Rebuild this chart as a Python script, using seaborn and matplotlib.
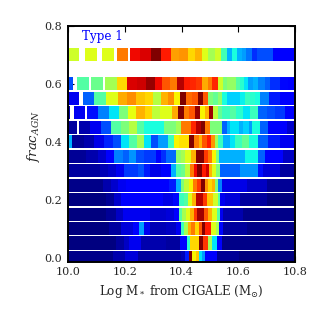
import matplotlib
matplotlib.use("Agg")
import matplotlib.pyplot as plt
import seaborn as sns
import numpy as np
import pandas as pd

nan = np.nan

# x edges are Log M*, values are the normalised colour level of each bin
e70 = [10.002,10.038,10.061,10.104,10.120,10.161,10.171,10.212,10.218,10.253,10.294,10.329,10.362,10.392,10.421,10.447,10.473,10.494,10.518,10.539,10.559,10.579,10.596,10.612,10.629,10.647,10.665,10.724,10.8]
v70 = [.6,nan,.62,nan,.62,nan,.78,nan,.9,.92,1,.88,.74,.75,.68,.72,.62,.55,.6,.43,.3,.38,.3,.28,.24,.17,.2,.12]
e60 = [10.0,10.018,10.033,10.074,10.082,10.124,10.129,10.171,10.208,10.244,10.276,10.306,10.333,10.359,10.385,10.408,10.429,10.453,10.473,10.494,10.509,10.527,10.545,10.561,10.592,10.606,10.620,10.635,10.653,10.671,10.694,10.712,10.747,10.776,10.8]
v60 = [.2,nan,.45,nan,.48,nan,.55,.68,.92,.93,.98,.9,.82,.78,.95,.88,.87,.85,.73,.78,.87,.6,.5,.53,.45,.4,.35,.28,.3,.25,.22,.17,.13,.12]
e55 = [10.0,10.039,10.051,10.091,10.135,10.176,10.209,10.241,10.271,10.300,10.326,10.352,10.373,10.396,10.418,10.438,10.458,10.476,10.493,10.512,10.527,10.542,10.559,10.576,10.606,10.624,10.641,10.659,10.676,10.709,10.747,10.8]
v55 = [.1,nan,.22,.45,.62,.73,.76,.7,.68,.57,.72,.76,.65,1,.8,.82,1,.82,.5,.47,.52,.38,.33,.33,.36,.42,.4,.38,.25,.15,.12]
e50 = [10.0,10.009,10.020,10.061,10.066,10.106,10.145,10.180,10.212,10.241,10.271,10.295,10.324,10.365,10.387,10.408,10.427,10.446,10.465,10.482,10.496,10.512,10.527,10.542,10.571,10.594,10.618,10.641,10.671,10.700,10.729,10.765,10.8]
v50 = [.05,nan,.1,nan,.14,.25,.35,.5,.63,.72,.68,.58,.62,.73,1,.78,.82,.98,.65,.72,.97,.58,.47,.42,.45,.4,.35,.42,.22,.2,.18,.12]
e45 = [10.0,10.032,10.038,10.078,10.116,10.152,10.187,10.216,10.243,10.269,10.340,10.381,10.398,10.434,10.451,10.468,10.484,10.501,10.542,10.560,10.571,10.601,10.618,10.636,10.648,10.677,10.706,10.748,10.771,10.8]
v45 = [.03,nan,.04,.1,.2,.45,.5,.57,.45,.38,.5,.55,.78,.87,.95,1,.78,.5,.22,.3,.35,.3,.33,.28,.38,.22,.12,.11,.07]
e40 = [10.0,10.005,10.014,10.058,10.093,10.128,10.158,10.187,10.216,10.243,10.269,10.293,10.316,10.351,10.375,10.393,10.427,10.444,10.460,10.474,10.489,10.503,10.518,10.530,10.548,10.571,10.589,10.612,10.636,10.671,10.706,10.748,10.8]
v40 = [.03,.3,.02,.04,.09,.16,.2,.35,.45,.55,.35,.2,.28,.42,.65,.67,1,.78,.72,.82,.88,.75,.55,.42,.3,.35,.42,.47,.38,.22,.15,.1]
e35 = [10.0,10.063,10.105,10.134,10.163,10.193,10.216,10.240,10.269,10.310,10.328,10.346,10.381,10.398,10.413,10.434,10.450,10.480,10.495,10.509,10.521,10.534,10.571,10.624,10.671,10.695,10.759,10.8]
v35 = [.02,.04,.07,.11,.25,.22,.27,.2,.18,.12,.17,.23,.52,.55,.62,.72,1,.85,.78,.65,.5,.3,.3,.37,.22,.12,.06]
e30 = [10.0,10.002,10.111,10.140,10.169,10.199,10.246,10.269,10.287,10.328,10.363,10.381,10.398,10.413,10.430,10.444,10.456,10.471,10.485,10.497,10.509,10.521,10.536,10.607,10.671,10.689,10.748,10.8]
v30 = [.05,.03,.05,.07,.1,.18,.21,.15,.09,.12,.3,.45,.48,.58,.78,.9,1,.88,.93,.72,.62,.5,.22,.27,.14,.08,.03]
e25 = [10.0,10.122,10.152,10.175,10.205,10.310,10.357,10.381,10.398,10.409,10.427,10.440,10.456,10.468,10.483,10.495,10.507,10.518,10.530,10.542,10.630,10.700,10.8]
v25 = [.01,.04,.07,.1,.11,.12,.15,.3,.5,.58,.65,.78,.85,1,.75,.68,.72,.5,.25,.09,.06,.02]
e20 = [10.0,10.134,10.163,10.187,10.334,10.369,10.393,10.407,10.421,10.436,10.451,10.477,10.489,10.513,10.527,10.536,10.554,10.607,10.700,10.8]
v20 = [0,.02,.07,.11,.09,.13,.42,.45,.62,.72,.95,.85,.7,.6,.45,.1,.08,.03,0]
e15 = [10.0,10.134,10.169,10.193,10.287,10.346,10.375,10.393,10.401,10.416,10.430,10.444,10.456,10.480,10.495,10.509,10.524,10.536,10.548,10.618,10.8]
v15 = [0,.02,.06,.1,.07,.08,.12,.45,.55,.62,.72,.85,.97,.82,.72,.62,.45,.1,.04,.01]
e10 = [10.0,10.146,10.187,10.228,10.249,10.269,10.287,10.346,10.381,10.398,10.407,10.421,10.433,10.447,10.460,10.471,10.483,10.503,10.521,10.534,10.545,10.630,10.8]
v10 = [0,.03,.08,.12,.28,.1,.05,.06,.1,.42,.55,.72,.78,.68,.82,1,.88,.62,.55,.13,.03,.01]
e05 = [10.0,10.169,10.199,10.216,10.257,10.346,10.395,10.419,10.430,10.463,10.477,10.495,10.507,10.524,10.542,10.8]
v05 = [0,.03,.06,.1,.04,.03,.11,.4,.68,1,.85,.55,.35,.12,.01]
e00 = [10.0,10.160,10.200,10.245,10.400,10.413,10.428,10.438,10.450,10.460,10.471,10.483,10.524,10.601,10.8]
v00 = [.01,.04,.08,.03,.05,.15,1,.65,.7,.35,.28,.12,.02,0]

frac_rows = [0.0,0.05,0.1,0.15,0.2,0.25,0.3,0.35,0.4,0.45,0.5,0.55,0.6,0.7]
edges = [e00,e05,e10,e15,e20,e25,e30,e35,e40,e45,e50,e55,e60,e70]
vals = [v00,v05,v10,v15,v20,v25,v30,v35,v40,v45,v50,v55,v60,v70]

xticks = [10.0,10.2,10.4,10.6,10.8]
yticks = [0.0,0.2,0.4,0.6,0.8]

# fine regular grid so the uneven bins and white gaps fit in one heatmap
nx = 640
dy = 0.005
y0 = -0.0225
ny = 165
xc = 10 + (np.arange(nx) + 0.5) * 0.8 / nx
yc = y0 + (np.arange(ny) + 0.5) * dy
grid = np.full((ny, nx), nan)
for f, e, v in zip(frac_rows, edges, vals):
    col = np.full(nx, nan)
    i = np.searchsorted(e, xc) - 1
    ok = (i >= 0) & (i < len(v))
    col[ok] = np.array(v)[i[ok]]
    grid[np.abs(yc - f) < 0.0225] = col
df = pd.DataFrame(grid, index=yc, columns=xc)

sns.set_style("ticks")
plt.rcParams["font.family"] = "DejaVu Serif"
plt.rcParams["mathtext.fontset"] = "dejavuserif"

fig = plt.figure(figsize=(3.27, 3.27), dpi=100)
ax = fig.add_axes([68/327, 1-261.5/327, 227/327, 235.8/327])
sns.heatmap(df, ax=ax, cmap="jet", vmin=0, vmax=1, cbar=False,
            xticklabels=False, yticklabels=False)

def xpos(v):
    return (np.asarray(v) - 10) / 0.8 * nx

def ypos(v):
    return (np.asarray(v) - y0) / dy

ax.set_xlim(xpos(10.0), xpos(10.8))
ax.set_ylim(ypos(-0.0138), ypos(0.8))
ax.set_xticks(xpos(xticks))
ax.set_xticklabels(["%.1f" % t for t in xticks], rotation=0, fontsize=8)
ax.set_yticks(ypos(yticks))
ax.set_yticklabels(["%.1f" % t for t in yticks], rotation=0, fontsize=8)
ax.tick_params(direction="in", length=4, width=0.8, top=True, right=True,
               bottom=True, left=True, color="k", pad=4)
for s in ax.spines.values():
    s.set_visible(True)
    s.set_color("k")
    s.set_linewidth(1.4)
ax.set_xlabel(r"Log M$_*$ from CIGALE (M$_{\odot}$)", fontsize=8.6, labelpad=4)
ax.set_ylabel(r"$frac_{AGN}$", fontsize=9.5, y=0.53, labelpad=2)
ax.text(xpos(10.05), ypos(0.75), "Type 1", color="b", fontsize=8.6)
fig.savefig("out.png", dpi=100)
